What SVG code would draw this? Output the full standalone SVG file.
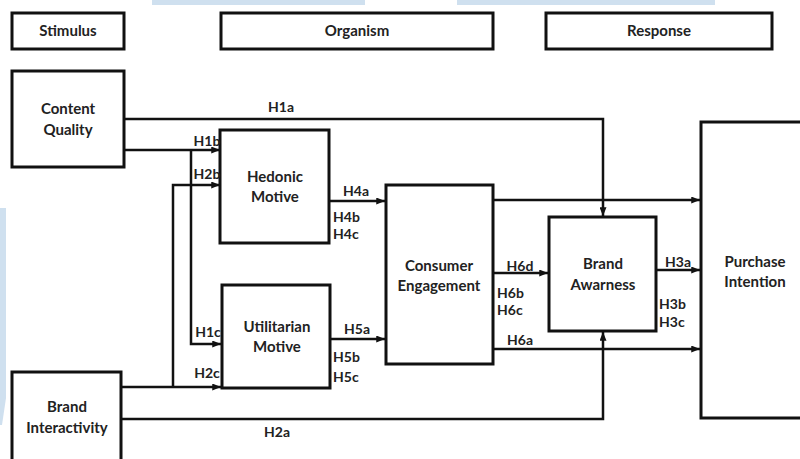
<svg xmlns="http://www.w3.org/2000/svg" width="800" height="459" viewBox="0 0 800 459">
<defs>
<marker id="arr" viewBox="0 0 10 8" refX="10" refY="4" markerWidth="9" markerHeight="7" markerUnits="userSpaceOnUse" orient="auto">
<path d="M0,0 L10,4 L0,8 z" fill="#111"/>
</marker>
<style>
.box{fill:#fff;stroke:#111;stroke-width:3}
.ln{fill:none;stroke:#111;stroke-width:2.5}
.t{font-family:Lato,"Liberation Sans",sans-serif;font-weight:bold;font-size:15px;fill:#222;text-anchor:middle}
.lb{font-family:Lato,"Liberation Sans",sans-serif;font-weight:bold;font-size:14px;fill:#222;text-anchor:middle}
.ls{text-anchor:start}
.bg{fill:#cfe0ef}
</style>
</defs>
<rect width="800" height="459" fill="#fff"/>
<rect class="bg" x="152" y="0" width="213" height="5"/>
<rect class="bg" x="457" y="0" width="258" height="5"/>
<polygon class="bg" points="0,208 6,208 6,398 2,425 0,425"/>

<g id="stimulus"><rect class="box" x="12" y="13" width="112" height="36"/><text class="t" x="68" y="36">Stimulus</text></g>
<g id="organism"><rect class="box" x="221" y="13" width="272" height="36"/><text class="t" x="357" y="36">Organism</text></g>
<g id="response"><rect class="box" x="546" y="13" width="226" height="36"/><text class="t" x="659" y="36">Response</text></g>

<g id="connectors">
<path class="ln" d="M124,119 H603 V216" marker-end="url(#arr)"/>
<path class="ln" d="M124,150 H220" marker-end="url(#arr)"/>
<path class="ln" d="M191,150 V344 H221" marker-end="url(#arr)"/>
<path class="ln" d="M173,387 V185 H220" marker-end="url(#arr)"/>
<path class="ln" d="M121,387 H221" marker-end="url(#arr)"/>
<path class="ln" d="M121,419 H603 V332" marker-end="url(#arr)"/>
<path class="ln" d="M329,201 H385" marker-end="url(#arr)"/>
<path class="ln" d="M330,339 H385" marker-end="url(#arr)"/>
<path class="ln" d="M493,200 H700" marker-end="url(#arr)"/>
<path class="ln" d="M493,273 H548" marker-end="url(#arr)"/>
<path class="ln" d="M493,349 H700" marker-end="url(#arr)"/>
<path class="ln" d="M656,270 H700" marker-end="url(#arr)"/>
</g>

<g id="content-quality"><rect class="box" x="12" y="71" width="112" height="96"/><text class="t" x="68" y="114">Content</text><text class="t" x="68" y="135">Quality</text></g>
<g id="brand-interactivity"><rect class="box" x="12" y="372" width="109" height="95"/><text class="t" x="67" y="412">Brand</text><text class="t" x="67" y="433">Interactivity</text></g>
<g id="hedonic-motive"><rect class="box" x="220" y="130" width="109" height="113"/><text class="t" x="275" y="182">Hedonic</text><text class="t" x="275" y="202">Motive</text></g>
<g id="utilitarian-motive"><rect class="box" x="222" y="285" width="108" height="103"/><text class="t" x="277" y="332">Utilitarian</text><text class="t" x="277" y="352">Motive</text></g>
<g id="consumer-engagement"><rect class="box" x="386" y="185" width="107" height="179"/><text class="t" x="439" y="271">Consumer</text><text class="t" x="439" y="291">Engagement</text></g>
<g id="brand-awarness"><rect class="box" x="549" y="217" width="107" height="114"/><text class="t" x="603" y="269">Brand</text><text class="t" x="603" y="290">Awarness</text></g>
<g id="purchase-intention"><rect class="box" x="701" y="122" width="110" height="296"/><text class="t" x="755" y="267">Purchase</text><text class="t" x="755" y="287">Intention</text></g>

<g id="labels">
<text class="lb" x="281" y="112">H1a</text>
<text class="lb" x="207" y="146">H1b</text>
<text class="lb" x="207" y="179">H2b</text>
<text class="lb" x="208" y="337">H1c</text>
<text class="lb" x="207" y="378">H2c</text>
<text class="lb" x="277" y="437">H2a</text>
<text class="lb" x="356" y="196">H4a</text>
<text class="lb ls" x="333" y="222">H4b</text>
<text class="lb ls" x="333" y="239">H4c</text>
<text class="lb" x="357" y="334">H5a</text>
<text class="lb ls" x="333" y="362">H5b</text>
<text class="lb ls" x="333" y="382">H5c</text>
<text class="lb" x="520" y="271">H6d</text>
<text class="lb ls" x="497" y="298">H6b</text>
<text class="lb ls" x="497" y="315">H6c</text>
<text class="lb" x="520" y="345">H6a</text>
<text class="lb" x="678" y="267">H3a</text>
<text class="lb ls" x="659" y="309">H3b</text>
<text class="lb ls" x="659" y="327">H3c</text>
</g>
</svg>
